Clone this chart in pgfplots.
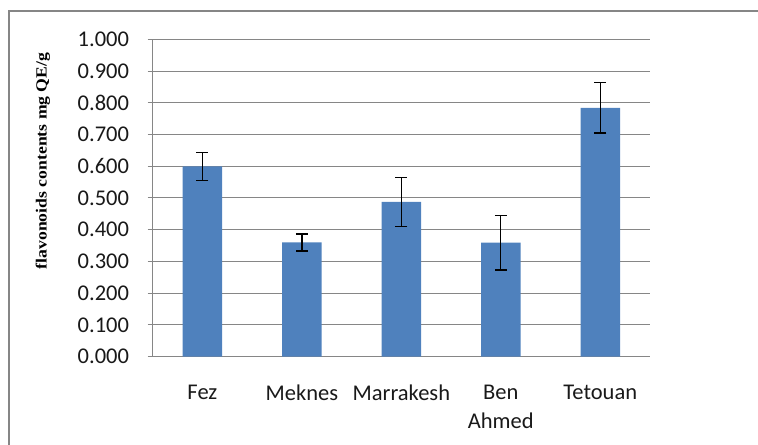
\documentclass[border=0pt]{standalone}
\usepackage{pgfplots}
\pgfplotsset{compat=1.18}
\usepackage{graphicx}
\usepackage{fontspec}
\setmainfont{Carlito}
\newfontfamily\timesfont{Liberation Serif}
\definecolor{barblue}{RGB}{79,129,189}
\definecolor{gridgray}{RGB}{134,134,134}
\begin{document}
\begin{tikzpicture}[x=1bp,y=1bp]
\path[use as bounding box] (0,0) rectangle (758,445);
\draw[gridgray, line width=2bp] (9,-5) -- (9,434) -- (765,434);
\begin{axis}[
  at={(152.7bp,88.3bp)}, anchor=south west,
  scale only axis, width=497.3bp, height=317.4bp,
  xmin=-0.5, xmax=4.5, ymin=0, ymax=1,
  ytick={0,0.1,0.2,0.3,0.4,0.5,0.6,0.7,0.8,0.9,1.0},
  /pgf/number format/assume math mode=true,
  yticklabel style={/pgf/number format/fixed, /pgf/number format/fixed zerofill, /pgf/number format/precision=3},
  yticklabel style={anchor=east, inner sep=0pt, xshift=-18.5bp},
  xtick={0,1,2,3,4},
  xticklabels={Fez,Meknes,Marrakesh,{Ben\\Ahmed},Tetouan},
  xticklabel style={align=center, anchor=north, inner sep=0pt, yshift=-23bp},
  major x tick style={draw=none},
  tick align=outside, major tick length=5bp,
  ytick style={gridgray, line width=1bp},
  ymajorgrids, grid style={gridgray, line width=1bp},
  axis x line*=bottom, axis y line*=left,
  axis line style={gridgray, line width=1bp},
  tick label style={font=\fontsize{22.5bp}{29bp}\selectfont, text=black!90},
  ylabel={\scalebox{1.14}[1]{\timesfont\bfseries\fontsize{15.5bp}{18bp}\selectfont flavonoids contents mg QE/g}},
  ylabel style={at={(axis description cs:-0.2206,0.6166)}, anchor=center},
]
\addplot[ybar, bar width=39.5bp, fill=barblue, draw=none,
  error bars/.cd, y dir=both, y explicit,
  error bar style={black, line width=1.3bp},
  error mark options={black, rotate=90, mark size=6bp, line width=1.3bp}]
coordinates {
  (0,0.600) +- (0,0.044)
  (1,0.360) +- (0,0.027)
  (2,0.488) +- (0,0.077)
  (3,0.359) +- (0,0.086)
  (4,0.784) +- (0,0.079)
};
\end{axis}
\end{tikzpicture}
\end{document}
